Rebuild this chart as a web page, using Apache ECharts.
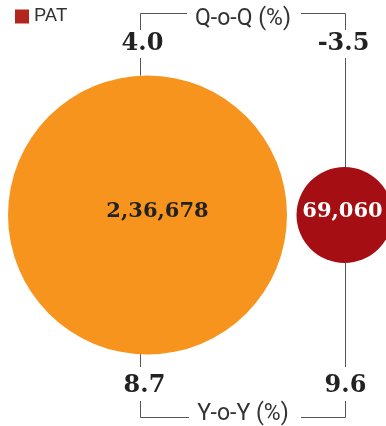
<!DOCTYPE html>
<html><head><meta charset="utf-8">
<script src="https://cdn.jsdelivr.net/npm/echarts@6/dist/echarts.min.js"></script>
<style>html,body{margin:0;padding:0;background:#fff}#c{width:386px;height:426px}</style>
</head><body><div id="c"></div>
<script>
// ---- data ----
const categories = ['Revenue', 'PAT'];
const values = [236678, 69060];
const qoq = [4.0, -3.5];
const yoy = [8.7, 9.6];
const qoqTitle = 'Q-o-Q (%)';
const yoyTitle = 'Y-o-Y (%)';
const legendItems = ['PAT'];

// ---- styles ----
const colors = ['#F7941E', '#A50F14'];
const labelColors = ['#222222', '#ffffff'];
const labelOffsets = [[10, -3], [-2, -3]];
const guideShift = [-8, 0];     // leader-line shift from circle centre (px)
const valueShift = [-5, -1];    // value-label shift from circle centre (px)
const sizeRange = [96, 279];
const lineColor = '#555555';
const valueFont = 'bold 24px "DejaVu Serif"';

function inr(n) {
  const s = String(Math.round(n));
  if (s.length <= 3) return s;
  const last3 = s.slice(-3);
  const rest = s.slice(0, -3).replace(/\B(?=(\d{2})+(?!\d))/g, ',');
  return rest + ',' + last3;
}
const minV = Math.min(...values), maxV = Math.max(...values);
function sizeOf(v) {
  return sizeRange[0] + (v - minV) / (maxV - minV) * (sizeRange[1] - sizeRange[0]);
}

const chart = echarts.init(document.getElementById('c'), null, {renderer: 'canvas'});

const scatterSeries = categories.map((c, i) => ({
  type: 'scatter',
  name: c,
  z: 2,
  data: [[c, 'all', values[i]]],
  symbol: 'circle',
  symbolSize: d => sizeOf(d[2]),
  itemStyle: {color: colors[i], opacity: 1},
  emphasis: {disabled: true},
  label: {
    show: true,
    position: 'inside',
    offset: labelOffsets[i],
    formatter: p => inr(p.value[2]),
    color: labelColors[i],
    fontFamily: 'DejaVu Serif',
    fontWeight: 'bold',
    fontSize: 21
  }
}));

function line(x1, y1, x2, y2) {
  return {type: 'line', shape: {x1, y1, x2, y2}, style: {stroke: lineColor, lineWidth: 1}, silent: true};
}
function txt(x, y, text, font, fill) {
  return {type: 'text', x, y, style: {text, font, fill, align: 'center', verticalAlign: 'middle'}, silent: true};
}

const annotSeries = {
  type: 'custom',
  name: 'annot',
  z: 3,
  silent: true,
  coordinateSystem: 'cartesian2d',
  data: categories.map((c, i) => [c, 'all', values[i], qoq[i], yoy[i]]),
  renderItem: function (params, api) {
    const i = params.dataIndex;
    const p = api.coord([i, 0]);
    const cx0 = p[0], cy = p[1];
    const r = sizeOf(api.value(2)) / 2;
    const cx = Math.round(cx0 + guideShift[i]) + 0.5;
    const lx = cx0 + valueShift[i];
    // y where the guide line meets the circle
    const dx = cx - cx0;
    const h = Math.sqrt(Math.max(r * r - dx * dx, 0));
    const ch = [];
    ch.push(txt(lx, 44, api.value(3).toFixed(1), valueFont, '#222'));
    ch.push(line(cx, 58, cx, cy - h));
    ch.push(line(cx, cy + h, cx, 367));
    ch.push(txt(lx + 2, 386, api.value(4).toFixed(1), valueFont, '#222'));
    ch.push(line(cx, 13.5, cx, 30));
    ch.push(line(cx, 401, cx, 417.5));
    if (i === 0) {
      const last = categories.length - 1;
      const q = api.coord([last, 0]);
      const ox = Math.round(q[0] + guideShift[last]) + 0.5;
      const mid = (cx + ox) / 2;
      ch.push(line(cx, 13.5, mid - 56, 13.5));
      ch.push(line(mid + 58, 13.5, ox, 13.5));
      ch.push(line(cx, 417.5, mid - 54, 417.5));
      ch.push(line(mid + 58, 417.5, ox, 417.5));
      ch.push(txt(mid, 19, qoqTitle, '23px Roboto', '#333'));
      ch.push(txt(mid, 414, yoyTitle, '23px Roboto', '#333'));
    }
    return {type: 'group', children: ch};
  }
};

chart.setOption({
  animation: false,
  backgroundColor: '#ffffff',
  legend: {
    data: legendItems.map(n => ({name: n, icon: 'rect', itemStyle: {color: '#B3261E'}})),
    left: 10, top: 2,
    itemWidth: 14, itemHeight: 14,
    selectedMode: false,
    textStyle: {fontFamily: 'Roboto', fontSize: 19, color: '#333'}
  },
  grid: {left: 49, width: 394, top: 4, height: 422, outerBoundsMode: 'none', containLabel: false},
  xAxis: {type: 'category', data: categories, show: false},
  yAxis: {type: 'category', data: ['all'], show: false},
  series: [...scatterSeries, annotSeries]
});
</script>
</body></html>
